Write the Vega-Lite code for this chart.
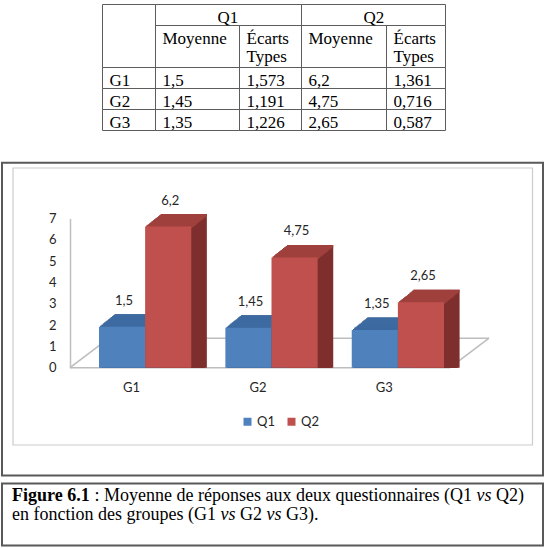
{
  "$schema": "https://vega.github.io/schema/vega-lite/v6.json",
  "width": 545,
  "height": 548,
  "autosize": {"type": "none"},
  "padding": 0,
  "background": "white",
  "config": {
    "view": {"stroke": null},
    "axis": {"grid": false},
    "locale": {"number": {"decimal": ",", "thousands": " ", "grouping": [3], "currency": ["", " €"]}}
  },
  "datasets": {
    "cells": [
      {"r0": 0, "r1": 2, "c0": 0, "c1": 1, "text": ""},
      {"r0": 0, "r1": 1, "c0": 1, "c1": 3, "text": "Q1"},
      {"r0": 0, "r1": 1, "c0": 3, "c1": 5, "text": "Q2"},
      {"r0": 1, "r1": 2, "c0": 1, "c1": 2, "text": "Moyenne"},
      {"r0": 1, "r1": 2, "c0": 2, "c1": 3, "text": "Écarts\nTypes"},
      {"r0": 1, "r1": 2, "c0": 3, "c1": 4, "text": "Moyenne"},
      {"r0": 1, "r1": 2, "c0": 4, "c1": 5, "text": "Écarts\nTypes"},
      {"r0": 2, "r1": 3, "c0": 0, "c1": 1, "text": "G1"},
      {"r0": 2, "r1": 3, "c0": 1, "c1": 2, "text": "1,5"},
      {"r0": 2, "r1": 3, "c0": 2, "c1": 3, "text": "1,573"},
      {"r0": 2, "r1": 3, "c0": 3, "c1": 4, "text": "6,2"},
      {"r0": 2, "r1": 3, "c0": 4, "c1": 5, "text": "1,361"},
      {"r0": 3, "r1": 4, "c0": 0, "c1": 1, "text": "G2"},
      {"r0": 3, "r1": 4, "c0": 1, "c1": 2, "text": "1,45"},
      {"r0": 3, "r1": 4, "c0": 2, "c1": 3, "text": "1,191"},
      {"r0": 3, "r1": 4, "c0": 3, "c1": 4, "text": "4,75"},
      {"r0": 3, "r1": 4, "c0": 4, "c1": 5, "text": "0,716"},
      {"r0": 4, "r1": 5, "c0": 0, "c1": 1, "text": "G3"},
      {"r0": 4, "r1": 5, "c0": 1, "c1": 2, "text": "1,35"},
      {"r0": 4, "r1": 5, "c0": 2, "c1": 3, "text": "1,226"},
      {"r0": 4, "r1": 5, "c0": 3, "c1": 4, "text": "2,65"},
      {"r0": 4, "r1": 5, "c0": 4, "c1": 5, "text": "0,587"}
    ],
    "means": [
      {"group": "G1", "q": "Q1", "mean": 1.5},
      {"group": "G1", "q": "Q2", "mean": 6.2},
      {"group": "G2", "q": "Q1", "mean": 1.45},
      {"group": "G2", "q": "Q2", "mean": 4.75},
      {"group": "G3", "q": "Q1", "mean": 1.35},
      {"group": "G3", "q": "Q2", "mean": 2.65}
    ],
    "caption": [
      {"line": 1, "seg": 0, "text": "Figure 6.1"},
      {"line": 1, "seg": 1, "text": ": Moyenne de réponses aux deux questionnaires (Q1"},
      {"line": 1, "seg": 2, "text": "vs"},
      {"line": 1, "seg": 3, "text": "Q2)"},
      {"line": 2, "seg": 4, "text": "en fonction des groupes (G1"},
      {"line": 2, "seg": 5, "text": "vs"},
      {"line": 2, "seg": 6, "text": "G2"},
      {"line": 2, "seg": 7, "text": "vs"},
      {"line": 2, "seg": 8, "text": "G3)."}
    ]
  },
  "layer": [
    {
      "data": {"name": "cells"},
      "encoding": {
        "x": {"field": "c0", "type": "quantitative", "axis": null, "scale": {"domain": [0, 1, 2, 3, 4, 5], "range": [102.5, 155.5, 239.5, 301.5, 386.5, 445.5], "nice": false, "zero": false}},
        "y": {"field": "r0", "type": "quantitative", "axis": null, "scale": {"domain": [0, 1, 2, 3, 4, 5], "range": [4.5, 25.5, 67.5, 88.5, 109.5, 130.5], "nice": false, "zero": false}}
      },
      "layer": [
        {
          "mark": {"type": "rect", "fill": "transparent", "stroke": "#5c5c5c", "strokeWidth": 1},
          "encoding": {"x2": {"field": "c1"}, "y2": {"field": "r1"}}
        },
        {
          "transform": [{"filter": "datum.r0 == 0 && datum.c0 > 0"}],
          "mark": {"type": "text", "align": "left", "baseline": "alphabetic", "dx": 62, "dy": 18, "font": "Liberation Serif", "fontSize": 17, "color": "#000"},
          "encoding": {"text": {"field": "text"}}
        },
        {
          "transform": [{"filter": "datum.r0 > 0"}],
          "mark": {"type": "text", "align": "left", "baseline": "alphabetic", "dx": 7, "dy": 18, "font": "Liberation Serif", "fontSize": 17, "lineHeight": 18.5, "lineBreak": "\n", "color": "#000"},
          "encoding": {"text": {"field": "text"}}
        }
      ]
    },
    {
      "data": {"values": [{}]},
      "mark": {"type": "rect", "fill": "transparent", "stroke": "#595959", "strokeWidth": 2},
      "encoding": {
        "x": {"datum": 0, "type": "quantitative", "axis": null, "scale": {"domain": [0, 1], "range": [2, 543], "nice": false}},
        "x2": {"datum": 1},
        "y": {"datum": 0, "type": "quantitative", "axis": null, "scale": {"domain": [0, 1], "range": [162.7, 475.5], "nice": false}},
        "y2": {"datum": 1}
      }
    },
    {
      "data": {"values": [{}]},
      "mark": {"type": "rect", "fill": "transparent", "stroke": "#cccccc", "strokeWidth": 1.2},
      "encoding": {
        "x": {"datum": 0, "type": "quantitative", "axis": null, "scale": {"domain": [0, 1], "range": [13, 532.5], "nice": false}},
        "x2": {"datum": 1},
        "y": {"datum": 0, "type": "quantitative", "axis": null, "scale": {"domain": [0, 1], "range": [168, 445], "nice": false}},
        "y2": {"datum": 1}
      }
    },
    {
      "data": {"name": "means"},
      "layer": [
        {"data": {"values": [{}]}, "mark": {"type": "rule", "color": "#bdbdbd", "strokeWidth": 1.5},
         "encoding": {"x": {"datum": 0, "type": "quantitative", "axis": null, "scale": {"domain": [0, 3], "range": [70, 450], "nice": false}}, "x2": {"datum": 3},
                      "y": {"datum": 0, "type": "quantitative", "axis": null, "scale": {"domain": [0, 7], "range": [367.7, 218.5], "nice": false}}, "y2": {"datum": 0}}},
        {"data": {"values": [{}]}, "mark": {"type": "rule", "color": "#bdbdbd", "strokeWidth": 1.5},
         "encoding": {"x": {"datum": 3, "type": "quantitative", "axis": null, "scale": {"domain": [0, 3], "range": [70, 450], "nice": false}}, "x2": {"datum": 3.308},
                      "y": {"datum": 0, "type": "quantitative", "axis": null, "scale": {"domain": [0, 7], "range": [367.7, 218.5], "nice": false}}, "y2": {"datum": 1.385}}},
        {"data": {"values": [{}]}, "mark": {"type": "rule", "color": "#bdbdbd", "strokeWidth": 1.5},
         "encoding": {"x": {"datum": 0.308, "type": "quantitative", "axis": null, "scale": {"domain": [0, 3], "range": [70, 450], "nice": false}}, "x2": {"datum": 3.308},
                      "y": {"datum": 1.385, "type": "quantitative", "axis": null, "scale": {"domain": [0, 7], "range": [367.7, 218.5], "nice": false}}, "y2": {"datum": 1.385}}},
        {"data": {"values": [{}]}, "mark": {"type": "rule", "color": "#bdbdbd", "strokeWidth": 1.5},
         "encoding": {"x": {"datum": 0, "type": "quantitative", "axis": null, "scale": {"domain": [0, 3], "range": [70, 450], "nice": false}}, "x2": {"datum": 0.308},
                      "y": {"datum": 0, "type": "quantitative", "axis": null, "scale": {"domain": [0, 7], "range": [367.7, 218.5], "nice": false}}, "y2": {"datum": 1.385}}},

        {"mark": {"type": "bar", "yOffset": -10.04, "y2Offset": -10.04}, "encoding": {"x": {"field": "group", "type": "nominal", "axis": null, "scale": {"domain": ["G1", "G2", "G3"], "range": [100.3, 445.3], "paddingInner": 0.27, "paddingOuter": 0}}, "xOffset": {"field": "q", "type": "nominal", "scale": {"domain": ["Q1", "Q2"], "range": [0, 92.25], "paddingInner": 0, "paddingOuter": 0}}, "y": {"field": "mean", "type": "quantitative", "stack": null, "axis": null, "scale": {"domain": [0, 7], "range": [367.7, 218.5], "nice": false}}, "color": {"field": "q", "type": "nominal", "legend": null, "scale": {"domain": ["Q1", "Q2"], "range": ["#33557f", "#7e2f2d"]}}}},
        {"mark": {"type": "bar", "yOffset": -11.08, "y2Offset": -11.08}, "encoding": {"x": {"field": "group", "type": "nominal", "axis": null, "scale": {"domain": ["G1", "G2", "G3"], "range": [101.6, 446.6], "paddingInner": 0.27, "paddingOuter": 0}}, "xOffset": {"field": "q", "type": "nominal", "scale": {"domain": ["Q1", "Q2"], "range": [0, 92.25], "paddingInner": 0, "paddingOuter": 0}}, "y": {"field": "mean", "type": "quantitative", "stack": null, "axis": null, "scale": {"domain": [0, 7], "range": [367.7, 218.5], "nice": false}}, "color": {"field": "q", "type": "nominal", "legend": null, "scale": {"domain": ["Q1", "Q2"], "range": ["#33557f", "#7e2f2d"]}}}},
        {"mark": {"type": "bar", "yOffset": -12.13, "y2Offset": -12.13}, "encoding": {"x": {"field": "group", "type": "nominal", "axis": null, "scale": {"domain": ["G1", "G2", "G3"], "range": [102.9, 447.9], "paddingInner": 0.27, "paddingOuter": 0}}, "xOffset": {"field": "q", "type": "nominal", "scale": {"domain": ["Q1", "Q2"], "range": [0, 92.25], "paddingInner": 0, "paddingOuter": 0}}, "y": {"field": "mean", "type": "quantitative", "stack": null, "axis": null, "scale": {"domain": [0, 7], "range": [367.7, 218.5], "nice": false}}, "color": {"field": "q", "type": "nominal", "legend": null, "scale": {"domain": ["Q1", "Q2"], "range": ["#33557f", "#7e2f2d"]}}}},
        {"mark": {"type": "bar", "yOffset": -13.17, "y2Offset": -13.17}, "encoding": {"x": {"field": "group", "type": "nominal", "axis": null, "scale": {"domain": ["G1", "G2", "G3"], "range": [104.2, 449.2], "paddingInner": 0.27, "paddingOuter": 0}}, "xOffset": {"field": "q", "type": "nominal", "scale": {"domain": ["Q1", "Q2"], "range": [0, 92.25], "paddingInner": 0, "paddingOuter": 0}}, "y": {"field": "mean", "type": "quantitative", "stack": null, "axis": null, "scale": {"domain": [0, 7], "range": [367.7, 218.5], "nice": false}}, "color": {"field": "q", "type": "nominal", "legend": null, "scale": {"domain": ["Q1", "Q2"], "range": ["#33557f", "#7e2f2d"]}}}},
        {"mark": {"type": "bar", "yOffset": -14.21, "y2Offset": -14.21}, "encoding": {"x": {"field": "group", "type": "nominal", "axis": null, "scale": {"domain": ["G1", "G2", "G3"], "range": [105.5, 450.5], "paddingInner": 0.27, "paddingOuter": 0}}, "xOffset": {"field": "q", "type": "nominal", "scale": {"domain": ["Q1", "Q2"], "range": [0, 92.25], "paddingInner": 0, "paddingOuter": 0}}, "y": {"field": "mean", "type": "quantitative", "stack": null, "axis": null, "scale": {"domain": [0, 7], "range": [367.7, 218.5], "nice": false}}, "color": {"field": "q", "type": "nominal", "legend": null, "scale": {"domain": ["Q1", "Q2"], "range": ["#33557f", "#7e2f2d"]}}}},
        {"mark": {"type": "bar", "yOffset": -15.25, "y2Offset": -15.25}, "encoding": {"x": {"field": "group", "type": "nominal", "axis": null, "scale": {"domain": ["G1", "G2", "G3"], "range": [106.8, 451.8], "paddingInner": 0.27, "paddingOuter": 0}}, "xOffset": {"field": "q", "type": "nominal", "scale": {"domain": ["Q1", "Q2"], "range": [0, 92.25], "paddingInner": 0, "paddingOuter": 0}}, "y": {"field": "mean", "type": "quantitative", "stack": null, "axis": null, "scale": {"domain": [0, 7], "range": [367.7, 218.5], "nice": false}}, "color": {"field": "q", "type": "nominal", "legend": null, "scale": {"domain": ["Q1", "Q2"], "range": ["#33557f", "#7e2f2d"]}}}},
        {"mark": {"type": "bar", "yOffset": -16.29, "y2Offset": -16.29}, "encoding": {"x": {"field": "group", "type": "nominal", "axis": null, "scale": {"domain": ["G1", "G2", "G3"], "range": [108.1, 453.1], "paddingInner": 0.27, "paddingOuter": 0}}, "xOffset": {"field": "q", "type": "nominal", "scale": {"domain": ["Q1", "Q2"], "range": [0, 92.25], "paddingInner": 0, "paddingOuter": 0}}, "y": {"field": "mean", "type": "quantitative", "stack": null, "axis": null, "scale": {"domain": [0, 7], "range": [367.7, 218.5], "nice": false}}, "color": {"field": "q", "type": "nominal", "legend": null, "scale": {"domain": ["Q1", "Q2"], "range": ["#33557f", "#7e2f2d"]}}}},
        {"mark": {"type": "bar", "yOffset": -17.33, "y2Offset": -17.33}, "encoding": {"x": {"field": "group", "type": "nominal", "axis": null, "scale": {"domain": ["G1", "G2", "G3"], "range": [109.4, 454.4], "paddingInner": 0.27, "paddingOuter": 0}}, "xOffset": {"field": "q", "type": "nominal", "scale": {"domain": ["Q1", "Q2"], "range": [0, 92.25], "paddingInner": 0, "paddingOuter": 0}}, "y": {"field": "mean", "type": "quantitative", "stack": null, "axis": null, "scale": {"domain": [0, 7], "range": [367.7, 218.5], "nice": false}}, "color": {"field": "q", "type": "nominal", "legend": null, "scale": {"domain": ["Q1", "Q2"], "range": ["#33557f", "#7e2f2d"]}}}},
        {"mark": {"type": "bar", "yOffset": -18.38, "y2Offset": -18.38}, "encoding": {"x": {"field": "group", "type": "nominal", "axis": null, "scale": {"domain": ["G1", "G2", "G3"], "range": [110.7, 455.7], "paddingInner": 0.27, "paddingOuter": 0}}, "xOffset": {"field": "q", "type": "nominal", "scale": {"domain": ["Q1", "Q2"], "range": [0, 92.25], "paddingInner": 0, "paddingOuter": 0}}, "y": {"field": "mean", "type": "quantitative", "stack": null, "axis": null, "scale": {"domain": [0, 7], "range": [367.7, 218.5], "nice": false}}, "color": {"field": "q", "type": "nominal", "legend": null, "scale": {"domain": ["Q1", "Q2"], "range": ["#33557f", "#7e2f2d"]}}}},
        {"mark": {"type": "bar", "yOffset": -19.42, "y2Offset": -19.42}, "encoding": {"x": {"field": "group", "type": "nominal", "axis": null, "scale": {"domain": ["G1", "G2", "G3"], "range": [112.0, 457.0], "paddingInner": 0.27, "paddingOuter": 0}}, "xOffset": {"field": "q", "type": "nominal", "scale": {"domain": ["Q1", "Q2"], "range": [0, 92.25], "paddingInner": 0, "paddingOuter": 0}}, "y": {"field": "mean", "type": "quantitative", "stack": null, "axis": null, "scale": {"domain": [0, 7], "range": [367.7, 218.5], "nice": false}}, "color": {"field": "q", "type": "nominal", "legend": null, "scale": {"domain": ["Q1", "Q2"], "range": ["#33557f", "#7e2f2d"]}}}},
        {"mark": {"type": "bar", "yOffset": -20.46, "y2Offset": -20.46}, "encoding": {"x": {"field": "group", "type": "nominal", "axis": null, "scale": {"domain": ["G1", "G2", "G3"], "range": [113.3, 458.3], "paddingInner": 0.27, "paddingOuter": 0}}, "xOffset": {"field": "q", "type": "nominal", "scale": {"domain": ["Q1", "Q2"], "range": [0, 92.25], "paddingInner": 0, "paddingOuter": 0}}, "y": {"field": "mean", "type": "quantitative", "stack": null, "axis": null, "scale": {"domain": [0, 7], "range": [367.7, 218.5], "nice": false}}, "color": {"field": "q", "type": "nominal", "legend": null, "scale": {"domain": ["Q1", "Q2"], "range": ["#33557f", "#7e2f2d"]}}}},
        {"mark": {"type": "bar", "yOffset": -21.5, "y2Offset": -21.5}, "encoding": {"x": {"field": "group", "type": "nominal", "axis": null, "scale": {"domain": ["G1", "G2", "G3"], "range": [114.6, 459.6], "paddingInner": 0.27, "paddingOuter": 0}}, "xOffset": {"field": "q", "type": "nominal", "scale": {"domain": ["Q1", "Q2"], "range": [0, 92.25], "paddingInner": 0, "paddingOuter": 0}}, "y": {"field": "mean", "type": "quantitative", "stack": null, "axis": null, "scale": {"domain": [0, 7], "range": [367.7, 218.5], "nice": false}}, "color": {"field": "q", "type": "nominal", "legend": null, "scale": {"domain": ["Q1", "Q2"], "range": ["#33557f", "#7e2f2d"]}}}},

        {"mark": {"type": "bar", "yOffset": -10.04, "y2Offset": -7.54}, "encoding": {"x": {"field": "group", "type": "nominal", "axis": null, "scale": {"domain": ["G1", "G2", "G3"], "range": [100.3, 445.3], "paddingInner": 0.27, "paddingOuter": 0}}, "xOffset": {"field": "q", "type": "nominal", "scale": {"domain": ["Q1", "Q2"], "range": [0, 92.25], "paddingInner": 0, "paddingOuter": 0}}, "y": {"field": "mean", "type": "quantitative", "stack": null, "axis": null, "scale": {"domain": [0, 7], "range": [367.7, 218.5], "nice": false}}, "y2": {"field": "mean"}, "color": {"field": "q", "type": "nominal", "legend": null, "scale": {"domain": ["Q1", "Q2"], "range": ["#3d6aa0", "#a0403d"]}}}},
        {"mark": {"type": "bar", "yOffset": -11.08, "y2Offset": -8.58}, "encoding": {"x": {"field": "group", "type": "nominal", "axis": null, "scale": {"domain": ["G1", "G2", "G3"], "range": [101.6, 446.6], "paddingInner": 0.27, "paddingOuter": 0}}, "xOffset": {"field": "q", "type": "nominal", "scale": {"domain": ["Q1", "Q2"], "range": [0, 92.25], "paddingInner": 0, "paddingOuter": 0}}, "y": {"field": "mean", "type": "quantitative", "stack": null, "axis": null, "scale": {"domain": [0, 7], "range": [367.7, 218.5], "nice": false}}, "y2": {"field": "mean"}, "color": {"field": "q", "type": "nominal", "legend": null, "scale": {"domain": ["Q1", "Q2"], "range": ["#3d6aa0", "#a0403d"]}}}},
        {"mark": {"type": "bar", "yOffset": -12.13, "y2Offset": -9.63}, "encoding": {"x": {"field": "group", "type": "nominal", "axis": null, "scale": {"domain": ["G1", "G2", "G3"], "range": [102.9, 447.9], "paddingInner": 0.27, "paddingOuter": 0}}, "xOffset": {"field": "q", "type": "nominal", "scale": {"domain": ["Q1", "Q2"], "range": [0, 92.25], "paddingInner": 0, "paddingOuter": 0}}, "y": {"field": "mean", "type": "quantitative", "stack": null, "axis": null, "scale": {"domain": [0, 7], "range": [367.7, 218.5], "nice": false}}, "y2": {"field": "mean"}, "color": {"field": "q", "type": "nominal", "legend": null, "scale": {"domain": ["Q1", "Q2"], "range": ["#3d6aa0", "#a0403d"]}}}},
        {"mark": {"type": "bar", "yOffset": -13.17, "y2Offset": -10.67}, "encoding": {"x": {"field": "group", "type": "nominal", "axis": null, "scale": {"domain": ["G1", "G2", "G3"], "range": [104.2, 449.2], "paddingInner": 0.27, "paddingOuter": 0}}, "xOffset": {"field": "q", "type": "nominal", "scale": {"domain": ["Q1", "Q2"], "range": [0, 92.25], "paddingInner": 0, "paddingOuter": 0}}, "y": {"field": "mean", "type": "quantitative", "stack": null, "axis": null, "scale": {"domain": [0, 7], "range": [367.7, 218.5], "nice": false}}, "y2": {"field": "mean"}, "color": {"field": "q", "type": "nominal", "legend": null, "scale": {"domain": ["Q1", "Q2"], "range": ["#3d6aa0", "#a0403d"]}}}},
        {"mark": {"type": "bar", "yOffset": -14.21, "y2Offset": -11.71}, "encoding": {"x": {"field": "group", "type": "nominal", "axis": null, "scale": {"domain": ["G1", "G2", "G3"], "range": [105.5, 450.5], "paddingInner": 0.27, "paddingOuter": 0}}, "xOffset": {"field": "q", "type": "nominal", "scale": {"domain": ["Q1", "Q2"], "range": [0, 92.25], "paddingInner": 0, "paddingOuter": 0}}, "y": {"field": "mean", "type": "quantitative", "stack": null, "axis": null, "scale": {"domain": [0, 7], "range": [367.7, 218.5], "nice": false}}, "y2": {"field": "mean"}, "color": {"field": "q", "type": "nominal", "legend": null, "scale": {"domain": ["Q1", "Q2"], "range": ["#3d6aa0", "#a0403d"]}}}},
        {"mark": {"type": "bar", "yOffset": -15.25, "y2Offset": -12.75}, "encoding": {"x": {"field": "group", "type": "nominal", "axis": null, "scale": {"domain": ["G1", "G2", "G3"], "range": [106.8, 451.8], "paddingInner": 0.27, "paddingOuter": 0}}, "xOffset": {"field": "q", "type": "nominal", "scale": {"domain": ["Q1", "Q2"], "range": [0, 92.25], "paddingInner": 0, "paddingOuter": 0}}, "y": {"field": "mean", "type": "quantitative", "stack": null, "axis": null, "scale": {"domain": [0, 7], "range": [367.7, 218.5], "nice": false}}, "y2": {"field": "mean"}, "color": {"field": "q", "type": "nominal", "legend": null, "scale": {"domain": ["Q1", "Q2"], "range": ["#3d6aa0", "#a0403d"]}}}},
        {"mark": {"type": "bar", "yOffset": -16.29, "y2Offset": -13.79}, "encoding": {"x": {"field": "group", "type": "nominal", "axis": null, "scale": {"domain": ["G1", "G2", "G3"], "range": [108.1, 453.1], "paddingInner": 0.27, "paddingOuter": 0}}, "xOffset": {"field": "q", "type": "nominal", "scale": {"domain": ["Q1", "Q2"], "range": [0, 92.25], "paddingInner": 0, "paddingOuter": 0}}, "y": {"field": "mean", "type": "quantitative", "stack": null, "axis": null, "scale": {"domain": [0, 7], "range": [367.7, 218.5], "nice": false}}, "y2": {"field": "mean"}, "color": {"field": "q", "type": "nominal", "legend": null, "scale": {"domain": ["Q1", "Q2"], "range": ["#3d6aa0", "#a0403d"]}}}},
        {"mark": {"type": "bar", "yOffset": -17.33, "y2Offset": -14.83}, "encoding": {"x": {"field": "group", "type": "nominal", "axis": null, "scale": {"domain": ["G1", "G2", "G3"], "range": [109.4, 454.4], "paddingInner": 0.27, "paddingOuter": 0}}, "xOffset": {"field": "q", "type": "nominal", "scale": {"domain": ["Q1", "Q2"], "range": [0, 92.25], "paddingInner": 0, "paddingOuter": 0}}, "y": {"field": "mean", "type": "quantitative", "stack": null, "axis": null, "scale": {"domain": [0, 7], "range": [367.7, 218.5], "nice": false}}, "y2": {"field": "mean"}, "color": {"field": "q", "type": "nominal", "legend": null, "scale": {"domain": ["Q1", "Q2"], "range": ["#3d6aa0", "#a0403d"]}}}},
        {"mark": {"type": "bar", "yOffset": -18.38, "y2Offset": -15.88}, "encoding": {"x": {"field": "group", "type": "nominal", "axis": null, "scale": {"domain": ["G1", "G2", "G3"], "range": [110.7, 455.7], "paddingInner": 0.27, "paddingOuter": 0}}, "xOffset": {"field": "q", "type": "nominal", "scale": {"domain": ["Q1", "Q2"], "range": [0, 92.25], "paddingInner": 0, "paddingOuter": 0}}, "y": {"field": "mean", "type": "quantitative", "stack": null, "axis": null, "scale": {"domain": [0, 7], "range": [367.7, 218.5], "nice": false}}, "y2": {"field": "mean"}, "color": {"field": "q", "type": "nominal", "legend": null, "scale": {"domain": ["Q1", "Q2"], "range": ["#3d6aa0", "#a0403d"]}}}},
        {"mark": {"type": "bar", "yOffset": -19.42, "y2Offset": -16.92}, "encoding": {"x": {"field": "group", "type": "nominal", "axis": null, "scale": {"domain": ["G1", "G2", "G3"], "range": [112.0, 457.0], "paddingInner": 0.27, "paddingOuter": 0}}, "xOffset": {"field": "q", "type": "nominal", "scale": {"domain": ["Q1", "Q2"], "range": [0, 92.25], "paddingInner": 0, "paddingOuter": 0}}, "y": {"field": "mean", "type": "quantitative", "stack": null, "axis": null, "scale": {"domain": [0, 7], "range": [367.7, 218.5], "nice": false}}, "y2": {"field": "mean"}, "color": {"field": "q", "type": "nominal", "legend": null, "scale": {"domain": ["Q1", "Q2"], "range": ["#3d6aa0", "#a0403d"]}}}},
        {"mark": {"type": "bar", "yOffset": -20.46, "y2Offset": -17.96}, "encoding": {"x": {"field": "group", "type": "nominal", "axis": null, "scale": {"domain": ["G1", "G2", "G3"], "range": [113.3, 458.3], "paddingInner": 0.27, "paddingOuter": 0}}, "xOffset": {"field": "q", "type": "nominal", "scale": {"domain": ["Q1", "Q2"], "range": [0, 92.25], "paddingInner": 0, "paddingOuter": 0}}, "y": {"field": "mean", "type": "quantitative", "stack": null, "axis": null, "scale": {"domain": [0, 7], "range": [367.7, 218.5], "nice": false}}, "y2": {"field": "mean"}, "color": {"field": "q", "type": "nominal", "legend": null, "scale": {"domain": ["Q1", "Q2"], "range": ["#3d6aa0", "#a0403d"]}}}},
        {"mark": {"type": "bar", "yOffset": -21.5, "y2Offset": -19.0}, "encoding": {"x": {"field": "group", "type": "nominal", "axis": null, "scale": {"domain": ["G1", "G2", "G3"], "range": [114.6, 459.6], "paddingInner": 0.27, "paddingOuter": 0}}, "xOffset": {"field": "q", "type": "nominal", "scale": {"domain": ["Q1", "Q2"], "range": [0, 92.25], "paddingInner": 0, "paddingOuter": 0}}, "y": {"field": "mean", "type": "quantitative", "stack": null, "axis": null, "scale": {"domain": [0, 7], "range": [367.7, 218.5], "nice": false}}, "y2": {"field": "mean"}, "color": {"field": "q", "type": "nominal", "legend": null, "scale": {"domain": ["Q1", "Q2"], "range": ["#3d6aa0", "#a0403d"]}}}},

        {"mark": {"type": "bar", "yOffset": -9, "y2Offset": -9},
         "encoding": {
           "x": {"field": "group", "type": "nominal", "scale": {"domain": ["G1", "G2", "G3"], "range": [99, 444], "paddingInner": 0.27, "paddingOuter": 0},
                 "axis": {"orient": "bottom", "offset": -173, "title": null, "domain": false, "ticks": false, "labelPadding": 6, "labelOffset": -13.5, "labelAngle": 0, "labelFont": "Lato", "labelFontSize": 13, "labelColor": "#262626"}},
           "xOffset": {"field": "q", "type": "nominal", "scale": {"domain": ["Q1", "Q2"], "range": [0, 92.25], "paddingInner": 0, "paddingOuter": 0}},
           "y": {"field": "mean", "type": "quantitative", "stack": null, "scale": {"domain": [0, 7], "range": [367.7, 218.5], "nice": false},
                 "axis": {"orient": "left", "offset": -70, "values": [0, 1, 2, 3, 4, 5, 6, 7], "title": null, "domain": true, "domainColor": "#bfbfbf", "domainWidth": 1.5, "ticks": false, "labelPadding": 14, "labelFont": "Lato", "labelFontSize": 13, "labelColor": "#262626", "grid": false, "labelFlush": false, "labelOverlap": false}},
           "color": {"field": "q", "type": "nominal", "scale": {"domain": ["Q1", "Q2"], "range": ["#4f81bd", "#c0504d"]},
                     "legend": {"orient": "none", "legendX": 241, "legendY": 415, "direction": "horizontal", "title": null, "symbolType": "square", "symbolSize": 64, "symbolStrokeWidth": 0, "labelFont": "Lato", "labelFontSize": 13, "labelColor": "#262626", "columnPadding": 10, "labelOffset": 3, "padding": 0}}
         }},
        {"mark": {"type": "text", "dy": -35, "dx": 2, "baseline": "middle", "align": "center", "font": "Lato", "fontSize": 13, "color": "#262626"},
         "encoding": {
           "x": {"field": "group", "type": "nominal", "axis": null, "scale": {"type": "band", "domain": ["G1", "G2", "G3"], "range": [99, 444], "paddingInner": 0.27, "paddingOuter": 0}},
           "xOffset": {"field": "q", "type": "nominal", "scale": {"type": "band", "domain": ["Q1", "Q2"], "range": [0, 92.25], "paddingInner": 0, "paddingOuter": 0}},
           "y": {"field": "mean", "type": "quantitative", "stack": null, "axis": null, "scale": {"domain": [0, 7], "range": [367.7, 218.5], "nice": false}},
           "text": {"field": "mean", "type": "quantitative", "format": ".2~f"}
         }}
      ],
      "resolve": {"scale": {"x": "independent", "y": "independent", "xOffset": "independent", "color": "independent"}}
    },
    {
      "data": {"values": [{}]},
      "mark": {"type": "rect", "fill": "transparent", "stroke": "#595959", "strokeWidth": 2},
      "encoding": {
        "x": {"datum": 0, "type": "quantitative", "axis": null, "scale": {"domain": [0, 1], "range": [2, 543], "nice": false}},
        "x2": {"datum": 1},
        "y": {"datum": 0, "type": "quantitative", "axis": null, "scale": {"domain": [0, 1], "range": [483.5, 545.5], "nice": false}},
        "y2": {"datum": 1}
      }
    },
    {
      "data": {"name": "caption"},
      "encoding": {
        "x": {"field": "seg", "type": "quantitative", "axis": null, "scale": {"domain": [0, 1, 2, 3, 4, 5, 6, 7, 8], "range": [12, 94.5, 476.4, 495.9, 12, 220.5, 240, 266.5, 286], "nice": false, "zero": false}},
        "y": {"field": "line", "type": "ordinal", "axis": null, "scale": {"type": "point", "domain": [1, 2], "range": [501, 519.5], "padding": 0}},
        "text": {"field": "text"}
      },
      "layer": [
        {"transform": [{"filter": "datum.seg == 0"}],
         "mark": {"type": "text", "align": "left", "baseline": "alphabetic", "font": "Liberation Serif", "fontSize": 18, "fontWeight": "bold", "color": "#000"}},
        {"transform": [{"filter": "datum.seg == 2 || datum.seg == 5 || datum.seg == 7"}],
         "mark": {"type": "text", "align": "left", "baseline": "alphabetic", "font": "Liberation Serif", "fontSize": 18, "fontStyle": "italic", "color": "#000"}},
        {"transform": [{"filter": "datum.seg == 1 || datum.seg == 3 || datum.seg == 4 || datum.seg == 6 || datum.seg == 8"}],
         "mark": {"type": "text", "align": "left", "baseline": "alphabetic", "font": "Liberation Serif", "fontSize": 18, "color": "#000"}}
      ]
    }
  ],
  "resolve": {"scale": {"x": "independent", "y": "independent", "color": "independent", "xOffset": "independent"}}
}
